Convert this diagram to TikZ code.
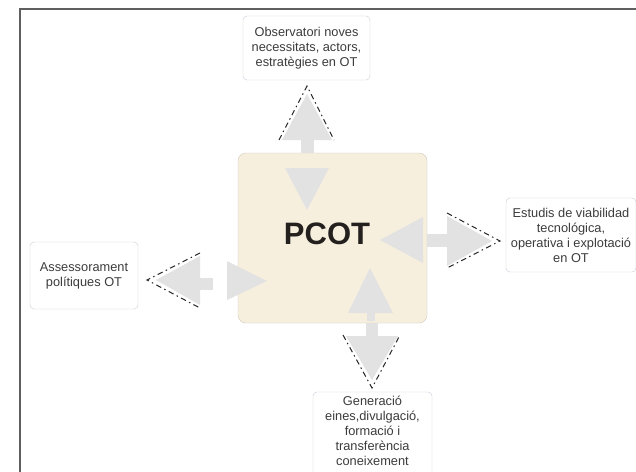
\documentclass[tikz,border=0pt]{standalone}
\usepackage{fontspec}
\setmainfont{Liberation Sans}
\definecolor{framec}{RGB}{95,95,95}
\definecolor{boxline}{RGB}{200,205,215}
\definecolor{txt}{RGB}{60,60,60}
\definecolor{beige}{RGB}{247,239,222}
\definecolor{arrowgray}{RGB}{226,226,226}
\begin{document}
\begin{tikzpicture}[x=1pt,y=-1pt,
  sat/.style={draw=boxline, fill=white, rounded corners=4pt, align=center,
    font=\fontsize{12.8}{15}\selectfont, text=txt, inner sep=2pt},
  core/.style={draw=beige!85!black, fill=beige, rounded corners=8pt},
  blk/.style={fill=arrowgray, draw=none},
  dashdot/.style={draw=black!85, line width=1pt, dash pattern=on 5.5pt off 3.5pt on 1.5pt off 3.5pt}]
\useasboundingbox (0,0) rectangle (636,471);
\clip (0,0) rectangle (636,471);
\fill[white] (0,0) rectangle (636,471);
% frame
\draw[framec, line width=1.5pt] (20,475) -- (20,9) -- (640,9);
% boxes
\node[core, minimum width=189pt, minimum height=170pt] (pcot) at (332.5,238) {};
\node[font=\fontsize{31}{31}\bfseries\selectfont, text={rgb,255:red,35;green,32;blue,30}] (pcottxt) at (327,234) {PCOT};
\node[sat, minimum width=127pt, minimum height=64pt] (obs) at (306.5,48)
  {Observatori noves\\necessitats, actors,\\estratègies en OT};
\node[sat, minimum width=130pt, minimum height=74pt] (est) at (571,235)
  {Estudis de viabilidad\\tecnológica,\\operativa i explotació\\en OT};
\node[sat, minimum width=108pt, minimum height=67pt] (ass) at (84,275.5)
  {Assessorament\\polítiques OT};
\node[sat, minimum width=119pt, minimum height=100pt, text depth=0pt] (gen) at (372.5,442) {};
\node[align=center, font=\fontsize{12.8}{15}\selectfont, text=txt] (gentxt) at (372.5,431)
  {Generació\\eines,divulgació,\\formació i\\transferència\\coneixement};
% ---- top arrows
\fill[blk] (301,140) rectangle (314,153);
\fill[blk] (307,94) -- (332,140) -- (282,140) -- cycle;
\draw[dashdot] (279,140) -- (307,86) -- (334,140);
\fill[blk] (285,168) -- (329,168) -- (307,210) -- cycle;
% ---- right arrows
\fill[blk] (427,234) rectangle (447,247);
\fill[blk] (492,241) -- (447,216) -- (447,266) -- cycle;
\draw[dashdot] (447,213) -- (500,241) -- (447,268);
\fill[blk] (423,217) -- (423,263) -- (380,240) -- cycle;
% ---- bottom arrows
\fill[blk] (366,323) rectangle (378,336);
\fill[blk] (346,336) -- (398,336) -- (372,380) -- cycle;
\draw[dashdot] (343,335) -- (372,388) -- (400,335);
\fill[blk] (367,312) rectangle (375,321);
\fill[blk] (348,313) -- (393,313) -- (370,268) -- cycle;
% ---- left arrows
\fill[blk] (200,278) rectangle (213,290);
\fill[blk] (156,280) -- (200,256) -- (200,305) -- cycle;
\draw[dashdot] (200,253) -- (147,280) -- (200,308);
\fill[blk] (227,261) -- (227,300) -- (267,281) -- cycle;
\end{tikzpicture}
\end{document}
